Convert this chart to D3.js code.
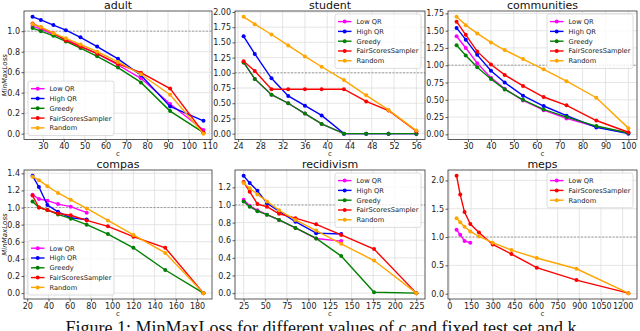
<!DOCTYPE html>
<html>
<head>
<meta charset="utf-8">
<script src="https://cdn.jsdelivr.net/npm/d3@7"></script>
<style>
body { margin: 0; background: #fff; }
svg { display: block; font-family: "DejaVu Sans", sans-serif; }
</style>
</head>
<body>
<script>
// series order = drawing order (later ones on top)
const seriesNames = ["Low QR", "High QR", "Greedy", "FairScoresSampler", "Random"];
const seriesColors = ["magenta", "blue", "green", "red", "orange"];

// adult
const adultC = [25, 29, 35, 41, 48, 56, 66, 77, 91, 107];
const adultLowQR = [1.05, 1.02, 0.97, 0.92, 0.855, 0.78, 0.67, 0.54, 0.29, 0.035];
const adultHighQR = [1.14, 1.11, 1.06, 1.01, 0.94, 0.85, 0.73, 0.57, 0.265, 0.125];
const adultGreedy = [1.03, 1.0, 0.955, 0.9, 0.835, 0.755, 0.645, 0.5, 0.22, 0.01];
const adultFair = [1.075, 1.035, 0.98, 0.91, 0.85, 0.78, 0.68, 0.595, 0.44, 0.01];
const adultRandom = [1.07, 1.04, 0.98, 0.93, 0.87, 0.80, 0.70, 0.58, 0.38, 0.0];
const adultXTicks = [30, 40, 50, 60, 70, 80, 90, 100, 110];
const adultYTicks = [0, 0.2, 0.4, 0.6, 0.8, 1.0];

// student
const studentC = [25, 27, 30, 33, 36, 39, 43, 47, 51, 56];
const studentLowQR = [1.17, 0.90, 0.64, 0.50, 0.33, 0.16, 0.0, 0.0, 0.0, 0.0];
const studentHighQR = [1.60, 1.31, 0.91, 0.62, 0.46, 0.30, 0.0, 0.0, 0.0, 0.0];
const studentGreedy = [1.17, 0.90, 0.64, 0.50, 0.33, 0.16, 0.0, 0.0, 0.0, 0.0];
const studentFair = [1.19, 1.03, 0.73, 0.73, 0.73, 0.73, 0.73, 0.53, 0.38, 0.04];
const studentRandom = [1.92, 1.80, 1.63, 1.45, 1.27, 1.10, 0.88, 0.63, 0.39, 0.05];
const studentXTicks = [24, 28, 32, 36, 40, 44, 48, 52, 56];
const studentYTicks = [0, 0.25, 0.5, 0.75, 1.0, 1.25, 1.5, 1.75, 2.0];

// communities
const commC = [25, 29, 34, 40, 46, 54, 63, 73, 86, 100];
const commLowQR = [1.42, 1.25, 1.03, 0.82, 0.66, 0.49, 0.35, 0.23, 0.11, 0.02];
const commHighQR = [1.54, 1.37, 1.15, 0.92, 0.75, 0.56, 0.41, 0.27, 0.10, 0.01];
const commGreedy = [1.29, 1.14, 0.97, 0.80, 0.65, 0.50, 0.36, 0.25, 0.12, 0.02];
const commFair = [1.63, 1.44, 1.20, 1.01, 0.86, 0.70, 0.54, 0.42, 0.20, 0.03];
const commRandom = [1.70, 1.58, 1.46, 1.33, 1.22, 1.09, 0.94, 0.77, 0.53, 0.09];
const commXTicks = [30, 40, 50, 60, 70, 80, 90, 100];
const commYTicks = [0, 0.25, 0.5, 0.75, 1.0, 1.25, 1.5, 1.75];

// compas (QR methods stop early)
const compasC = [25, 31, 39, 49, 61, 76, 96, 120, 150, 186];
const compasLowQR = [1.15, 1.10, 1.08, 1.04, 1.01, 0.94];
const compasHighQR = [1.37, 1.24, 1.03, 0.95, 0.88, 0.86];
const compasGreedy = [1.07, 1.00, 0.97, 0.92, 0.87, 0.80, 0.69, 0.53, 0.27, 0.0];
const compasFair = [1.14, 1.00, 0.97, 0.93, 0.91, 0.85, 0.78, 0.66, 0.53, 0.0];
const compasRandom = [1.36, 1.32, 1.25, 1.17, 1.09, 0.99, 0.85, 0.68, 0.47, 0.0];
const compasXTicks = [20, 40, 60, 80, 100, 120, 140, 160, 180];
const compasYTicks = [0, 0.2, 0.4, 0.6, 0.8, 1.0, 1.2, 1.4];

// recidivism
const recidC = [25, 32, 41, 52, 66, 85, 109, 138, 176, 225];
const recidLowQR = [1.06, 0.99, 0.94, 0.89, 0.83, 0.74, 0.62, 0.59];
const recidHighQR = [1.33, 1.25, 1.16, 1.02, 0.93, 0.81, 0.68, 0.67];
const recidGreedy = [1.04, 0.98, 0.93, 0.89, 0.83, 0.74, 0.62, 0.42, 0.01, 0.0];
const recidFair = [1.26, 1.15, 1.01, 0.98, 0.90, 0.85, 0.78, 0.66, 0.50, 0.0];
const recidRandom = [1.25, 1.19, 1.12, 1.04, 0.94, 0.83, 0.71, 0.56, 0.37, 0.0];
const recidXTicks = [25, 50, 75, 100, 125, 150, 175, 200, 225];
const recidYTicks = [0, 0.2, 0.4, 0.6, 0.8, 1.0, 1.2];

// meps (only three methods)
const mepsC = [50, 75, 105, 145, 205, 300, 430, 605, 880, 1240];
const mepsLowQR = [1.13, 1.04, 0.93, 0.90];
const mepsFair = [2.08, 1.75, 1.44, 1.23, 1.08, 0.87, 0.70, 0.46, 0.24, 0.01];
const mepsRandom = [1.33, 1.26, 1.18, 1.10, 1.01, 0.90, 0.77, 0.63, 0.44, 0.01];
const mepsXTicks = [0, 150, 300, 450, 600, 750, 900, 1050, 1200];
const mepsYTicks = [0, 0.5, 1.0, 1.5, 2.0];

const caption = "Figure 1: MinMaxLoss for different values of c and fixed test set and k";

const panels = [
    {title: "adult", c: adultC, series: [adultLowQR, adultHighQR, adultGreedy, adultFair, adultRandom],
     xt: adultXTicks, yt: adultYTicks, fmt: ".1f", legend: "ll", ylab: true, col: 0, row: 0},
    {title: "student", c: studentC, series: [studentLowQR, studentHighQR, studentGreedy, studentFair, studentRandom],
     xt: studentXTicks, yt: studentYTicks, fmt: ".2f", legend: "ur", ylab: false, col: 1, row: 0},
    {title: "communities", c: commC, series: [commLowQR, commHighQR, commGreedy, commFair, commRandom],
     xt: commXTicks, yt: commYTicks, fmt: ".2f", legend: "ur", ylab: false, col: 2, row: 0},
    {title: "compas", c: compasC, series: [compasLowQR, compasHighQR, compasGreedy, compasFair, compasRandom],
     xt: compasXTicks, yt: compasYTicks, fmt: ".1f", legend: "ll", ylab: true, col: 0, row: 1},
    {title: "recidivism", c: recidC, series: [recidLowQR, recidHighQR, recidGreedy, recidFair, recidRandom],
     xt: recidXTicks, yt: recidYTicks, fmt: ".1f", legend: "ur", ylab: false, col: 1, row: 1},
    {title: "meps", c: mepsC, series: [mepsLowQR, null, null, mepsFair, mepsRandom],
     xt: mepsXTicks, yt: mepsYTicks, fmt: ".1f", legend: "ur", ylab: false, col: 2, row: 1}
];

// axes frames (pixels)
const cols = [[24, 212], [235, 425], [448, 637]];
const rows = [[11, 139.5], [170, 299]];

const svg = d3.select("body").append("svg")
    .attr("width", 640)
    .attr("height", 331);

// matplotlib-like 5% padding
function padded(ext) {
    const p = (ext[1] - ext[0]) * 0.05;
    return [ext[0] - p, ext[1] + p];
}

panels.forEach(function (p) {
    const x0 = cols[p.col][0], x1 = cols[p.col][1];
    const y0 = rows[p.row][0], y1 = rows[p.row][1];
    const g = svg.append("g");

    const allY = [].concat(...p.series.filter(s => s));
    const x = d3.scaleLinear().domain(padded(d3.extent(p.c))).range([x0, x1]);
    const y = d3.scaleLinear().domain(padded(d3.extent(allY))).range([y1, y0]);

    // grid
    g.selectAll(".gx").data(p.xt).enter().append("line")
        .attr("x1", d => x(d)).attr("x2", d => x(d))
        .attr("y1", y0).attr("y2", y1)
        .attr("stroke", "#dedede").attr("stroke-width", 0.8);
    g.selectAll(".gy").data(p.yt).enter().append("line")
        .attr("x1", x0).attr("x2", x1)
        .attr("y1", d => y(d)).attr("y2", d => y(d))
        .attr("stroke", "#dedede").attr("stroke-width", 0.8);

    // reference at 1.0
    g.append("line")
        .attr("x1", x0).attr("x2", x1)
        .attr("y1", y(1)).attr("y2", y(1))
        .attr("stroke", "#8a8a8a").attr("stroke-width", 0.8)
        .attr("stroke-dasharray", "2,1.5");

    // series
    const line = d3.line().x(d => x(d[0])).y(d => y(d[1]));
    p.series.forEach(function (s, i) {
        if (!s) return;
        const pts = s.map((v, k) => [p.c[k], v]);
        g.append("path")
            .datum(pts)
            .attr("d", line)
            .attr("fill", "none")
            .attr("stroke", seriesColors[i])
            .attr("stroke-width", 1.4);
        g.selectAll(".m" + i).data(pts).enter().append("circle")
            .attr("cx", d => x(d[0]))
            .attr("cy", d => y(d[1]))
            .attr("r", 2)
            .attr("fill", seriesColors[i]);
    });

    // frame
    g.append("rect")
        .attr("x", x0).attr("y", y0)
        .attr("width", x1 - x0).attr("height", y1 - y0)
        .attr("fill", "none").attr("stroke", "#333").attr("stroke-width", 0.8);

    // axes
    const ax = g.append("g")
        .attr("transform", "translate(0," + y1 + ")")
        .call(d3.axisBottom(x).tickValues(p.xt).tickSize(2.5).tickPadding(1.5).tickFormat(d3.format("d")));
    const ay = g.append("g")
        .attr("transform", "translate(" + x0 + ",0)")
        .call(d3.axisLeft(y).tickValues(p.yt).tickSize(2.5).tickPadding(1.5).tickFormat(d3.format(p.fmt)));
    [ax, ay].forEach(function (a) {
        a.select(".domain").remove();
        a.selectAll("line").attr("stroke", "#333").attr("stroke-width", 0.8);
        a.selectAll("text").attr("font-size", 8).attr("fill", "#222")
            .attr("font-family", "DejaVu Sans");
    });

    // title and labels
    g.append("text")
        .attr("x", (x0 + x1) / 2).attr("y", y0 - 2.5)
        .attr("text-anchor", "middle")
        .attr("font-size", 11)
        .attr("fill", "#111")
        .text(p.title);
    g.append("text")
        .attr("x", (x0 + x1) / 2).attr("y", y1 + 16.5)
        .attr("text-anchor", "middle")
        .attr("font-size", 7)
        .attr("fill", "#222")
        .text("c");
    if (p.ylab) {
        g.append("text")
            .attr("transform", "translate(7," + ((y0 + y1) / 2) + ") rotate(-90)")
            .attr("text-anchor", "middle")
            .attr("font-size", 7)
            .attr("font-style", "italic")
            .attr("fill", "#222")
            .text("MinMaxLoss");
    }

    // legend
    const entries = p.series.map((s, i) => s ? i : -1).filter(i => i >= 0);
    const fs = 6.7, rowH = 9.8, lw = 86;
    const lh = 5.4 + entries.length * rowH;
    const lx = p.legend === "ll" ? x0 + 4 : x1 - 4 - lw;
    const ly = p.legend === "ll" ? y1 - 4 - lh : y0 + 3;
    const lg = g.append("g");
    lg.append("rect")
        .attr("x", lx).attr("y", ly).attr("width", lw).attr("height", lh)
        .attr("rx", 2)
        .attr("fill", "#fff").attr("fill-opacity", 0.8)
        .attr("stroke", "#d4d4d4").attr("stroke-width", 0.8);
    entries.forEach(function (i, k) {
        const cy = ly + 7.6 + k * rowH;
        lg.append("line")
            .attr("x1", lx + 3).attr("x2", lx + 16.5)
            .attr("y1", cy).attr("y2", cy)
            .attr("stroke", seriesColors[i]).attr("stroke-width", 1.4);
        lg.append("circle")
            .attr("cx", lx + 9.7).attr("cy", cy).attr("r", 2)
            .attr("fill", seriesColors[i]);
        lg.append("text")
            .attr("x", lx + 21.5).attr("y", cy + 2.4)
            .attr("font-size", fs)
            .attr("fill", "#222")
            .text(seriesNames[i]);
    });
});

// caption (cut off by the page edge, as in the source)
svg.append("text")
    .attr("x", 321).attr("y", 333.5)
    .attr("text-anchor", "middle")
    .attr("font-family", "Liberation Serif, serif")
    .attr("font-size", 18)
    .attr("fill", "#111")
    .text(caption);
</script>
</body>
</html>
